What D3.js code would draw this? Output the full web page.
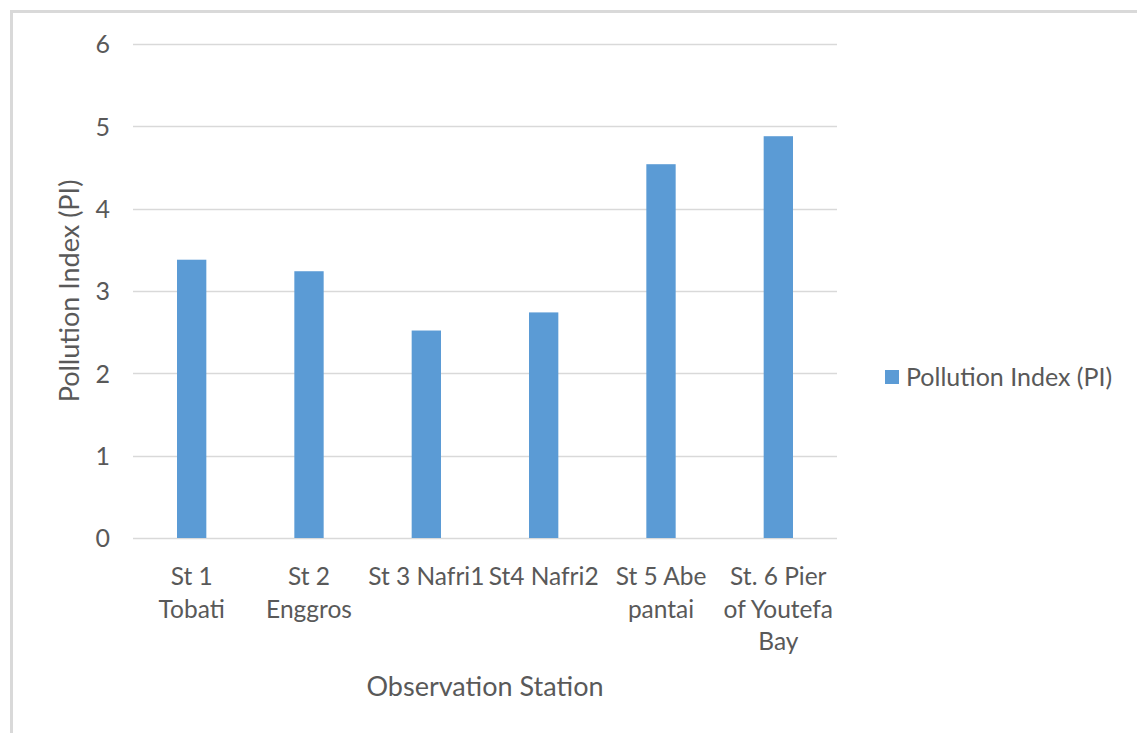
<!DOCTYPE html>
<html><head><meta charset="utf-8">
<script src="https://cdn.jsdelivr.net/npm/d3@7"></script>
<style>
html,body{margin:0;padding:0;background:#fff;}
svg{display:block;}
text{font-family:Lato,"Open Sans",sans-serif;fill:#595959;}
</style></head>
<body><svg id="c" width="1137" height="733"></svg>
<script>
const categories = [["St 1","Tobati"],["St 2","Enggros"],["St 3 Nafri1"],["St4 Nafri2"],["St 5 Abe","pantai"],["St. 6 Pier","of Youtefa","Bay"]];
const values = [3.38, 3.24, 2.52, 2.74, 4.54, 4.88];
const yTicks = [0,1,2,3,4,5,6];
const seriesName = "Pollution Index (PI)";
const xTitle = "Observation Station";
const yTitle = "Pollution Index (PI)";

const svg = d3.select("#c");
svg.append("rect").attr("x",11.5).attr("y",11.5).attr("width",1200).attr("height",800)
  .attr("fill","#fff").attr("stroke","#d9d9d9").attr("stroke-width",3);

const L=133, R=837, T=44, B=538;
const x = d3.scaleBand().domain(d3.range(categories.length)).range([L,R]).padding(0);
const y = d3.scaleLinear().domain([0,6]).range([B,T]);

const grid = svg.append("g");
grid.selectAll("line").data(yTicks).join("line")
  .attr("x1",L).attr("x2",R).attr("y1",d=>Math.round(y(d))+0.5).attr("y2",d=>Math.round(y(d))+0.5)
  .attr("stroke","#d9d9d9").attr("stroke-width",1.5);

const yAxis = d3.axisLeft(y).tickValues(yTicks).tickSize(0).tickPadding(0).tickFormat(d3.format("d"));
const ya = svg.append("g").attr("transform",`translate(110,0)`).call(yAxis);
ya.select(".domain").remove();
ya.selectAll("text").attr("font-size",25).attr("fill","#595959").style("font-family","Lato,sans-serif").attr("dy","0.35em");

const bw = x.bandwidth()*0.25;
svg.append("g").selectAll("rect").data(values).join("rect")
  .attr("x",(d,i)=>x(i)+x.bandwidth()/2-bw/2).attr("width",bw)
  .attr("y",d=>y(d)).attr("height",d=>B-y(d))
  .attr("fill","#5b9bd5");

const xl = svg.append("g");
categories.forEach((lines,i)=>{
  const t = xl.append("text").attr("text-anchor","middle").attr("font-size",24.5)
    .attr("x",x(i)+x.bandwidth()/2).attr("y",585);
  lines.forEach((ln,j)=>t.append("tspan").attr("x",x(i)+x.bandwidth()/2).attr("dy",j===0?0:32.5).text(ln));
});

svg.append("text").attr("x",485).attr("y",696).attr("text-anchor","middle").attr("font-size",27).text(xTitle);
svg.append("text").attr("transform","translate(79,291) rotate(-90)").attr("text-anchor","middle").attr("font-size",27).text(yTitle);

svg.append("rect").attr("x",885).attr("y",370).attr("width",14).attr("height",14).attr("fill","#5b9bd5");
svg.append("text").attr("x",906).attr("y",386).attr("font-size",25).text(seriesName);
</script></body></html>
